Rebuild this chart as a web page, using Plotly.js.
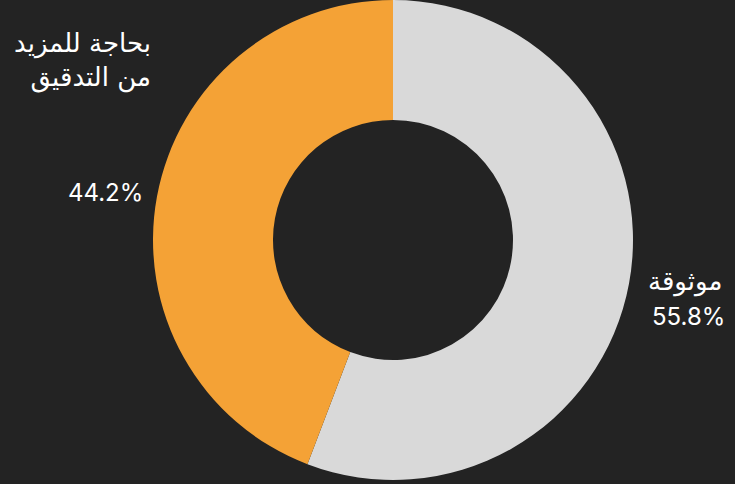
<!DOCTYPE html>
<html>
<head>
<meta charset="utf-8">
<script src="https://cdn.plot.ly/plotly-3.0.1.min.js"></script>
<style>html,body{margin:0;padding:0;background:#232323;}#chart{width:735px;height:484px;}</style>
</head>
<body>
<div id="chart"></div>
<script>
const labels = ["موثوقة", "بحاجة للمزيد<br>من التدقيق"];
const values = [55.8, 44.2];
const colors = ["#d9d9d9", "#f4a236"];

const W = 735, H = 484;
const px = (x) => x / W;
const py = (y) => 1 - y / H;
const numFont = {family: "Inter, sans-serif", size: 24, color: '#ffffff'};
const arFont = {family: "'DejaVu Sans', sans-serif", size: 26, color: '#ffffff'};

const total = values.reduce((a, b) => a + b, 0);
const pct = values.map(v => (v / total * 100).toFixed(1) + '%');

const annotations = [
  {x: px(685), y: py(281), text: labels[0], font: arFont},
  {x: px(688), y: py(316), text: pct[0], font: numFont},
  {x: px(82), y: py(60), text: labels[1], align: 'right', font: arFont},
  {x: px(105), y: py(193), text: pct[1], font: numFont}
].map(a => Object.assign({xref: 'paper', yref: 'paper', showarrow: false,
  xanchor: 'center', yanchor: 'middle'}, a));

const data = [{
  type: 'pie',
  labels: labels,
  values: values,
  hole: 0.5,
  sort: false,
  direction: 'clockwise',
  rotation: 0,
  textinfo: 'none',
  marker: {colors: colors, line: {width: 0}},
  domain: {x: [px(153), px(633)], y: [py(480), py(0)]},
  showlegend: false,
  hoverinfo: 'none'
}];

const layout = {
  width: W, height: H,
  margin: {l: 0, r: 0, t: 0, b: 0},
  paper_bgcolor: '#232323',
  plot_bgcolor: '#232323',
  showlegend: false,
  annotations: annotations
};

Plotly.newPlot('chart', data, layout, {displayModeBar: false, staticPlot: true});
</script>
</body>
</html>
